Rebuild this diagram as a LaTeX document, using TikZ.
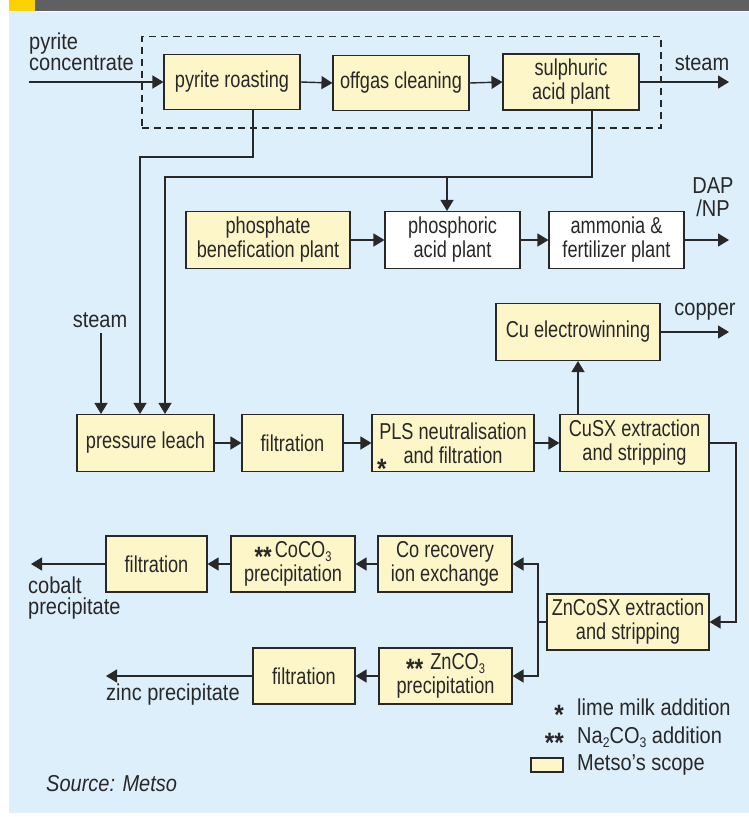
\documentclass[tikz,border=0pt]{standalone}
\usepackage{fontspec}
\setmainfont{Liberation Sans}[FakeStretch=0.79]
\newfontfamily\lblfont{Liberation Sans}[FakeStretch=0.87]
\usetikzlibrary{arrows.meta}
\usetikzlibrary{calc}
\usetikzlibrary{fit}
\definecolor{bg1}{RGB}{222,239,252}
\definecolor{bx1}{RGB}{253,246,200}
\definecolor{l1}{RGB}{40,40,40}
\definecolor{bar1}{RGB}{96,96,96}
\definecolor{bar2}{RGB}{250,210,0}
\newcommand{\stx}[1]{\raisebox{-9pt}[12pt][0pt]{\fontsize{28}{28}\selectfont\bfseries #1}}
\newcommand{\subx}[1]{\raisebox{-4pt}[0pt][0pt]{\fontsize{14}{14}\selectfont #1}}

\begin{document}
\begin{tikzpicture} [
    x=1pt, y=-1pt,
    font=\fontsize{23}{24}\selectfont,
    every node/.append style={text=l1},
    f/.style={draw=l1, line width=1.4pt, -{Triangle[length=11pt,width=13pt]}},
    ln/.style={draw=l1, line width=1.4pt},
    blk/.style={draw=l1, line width=1.1pt, fill=bx1, align=center, inner sep=0pt},
    wblk/.style={blk, fill=white},
    lbl/.style={align=center, inner sep=0pt, font=\lblfont\fontsize{23}{21}\selectfont}
]

% background
\useasboundingbox (0,0) rectangle (749,817);
\fill [bg1] (9,12) rectangle (749,813);
\fill [bar1] (35,0) rectangle (749,11);
\fill [bar2] (9,0) rectangle (35,11);

% roasting and sulphuric acid
\node [blk, minimum width=136pt, minimum height=55pt] (roast) at (232,82) {pyrite roasting};
\node [blk, minimum width=136pt, minimum height=55pt] (offgas) at (401,83) {offgas cleaning};
\node [blk, minimum width=136pt, minimum height=56pt] (sulph) at (571,82) {sulphuric\\acid plant};
\node [fit=(roast)(offgas)(sulph), inner xsep=21.5pt, inner ysep=17pt,
    draw=l1, line width=1.2pt, dash pattern=on 7pt off 5pt] (scope) {};

\coordinate (feed) at (29,82);
\coordinate (steamout) at (729,82);
\node [lbl, align=left, anchor=west] (feedlbl) at (29,52) {pyrite\\concentrate};
\node [lbl] (steamlbl) at (702,63) {steam};
\draw [f] (feed) -- (roast.west);
\draw [f] (roast.east) -- (offgas.west);
\draw [f] (offgas.east) -- (sulph.west);
\draw [f] (sulph.east) -- (steamout);

% phosphate line
\node [blk, minimum width=164pt, minimum height=57pt] (phosben) at (268,240) {phosphate\\benefication plant};
\node [wblk, minimum width=135pt, minimum height=57pt] (phosacid) at (452.5,240) {phosphoric\\acid plant};
\node [wblk, minimum width=135pt, minimum height=57pt] (ammonia) at (616.5,240) {ammonia \&\\fertilizer plant};
\coordinate (dapout) at (729,240);
\node [lbl, font=\lblfont\fontsize{23}{23}\selectfont] (daplbl) at (713,197) {DAP\\/NP};
\draw [f] (phosben.east) -- (phosacid.west);
\draw [f] (phosacid.east) -- (ammonia.west);
\draw [f] (ammonia.east) -- (dapout);

% leach line
\node [blk, minimum width=137pt, minimum height=57pt] (leach) at (145.5,443) {pressure leach};
\node [blk, minimum width=101pt, minimum height=57pt] (filt1) at (292.5,443) {filtration};
\node [blk, minimum width=162pt, minimum height=57pt] (pls) at (453,443) {PLS neutralisation\\and filtration};
\node [lbl, anchor=base west] (plsstar) at (377,469) {\stx{*}};
\node [blk, minimum width=149pt, minimum height=57pt] (cusx) at (634.5,443) {CuSX extraction\\and stripping};
\node [blk, minimum width=164pt, minimum height=57pt] (cuew) at (578,332) {Cu electrowinning};
\coordinate (cuout) at (729,332);
\node [lbl] (culbl) at (705,312) {copper};
\coordinate (steamin) at (101,333);
\node [lbl] (steamlbl2) at (100,320) {steam};

\draw [f] (leach.east) -- (filt1.west);
\draw [f] (filt1.east) -- (pls.west);
\draw [f] (pls.east) -- (cusx.west);
\draw [f] (cusx.north -| cuew) -- (cuew.south);
\draw [f] (cuew.east) -- (cuout);
\draw [f] (steamin) -- (leach.north -| steamin);

% feeds into pressure leach
\coordinate (r1) at (253,157);
\coordinate (r2) at (140,157);
\coordinate (s1) at (592,177);
\coordinate (s2) at (165,177);
\coordinate (s3) at (447,177);
\draw [f] (roast.south -| r1) -- (r1) -- (r2) -- (leach.north -| r2);
\draw [f] (sulph.south -| s1) -- (s1) -- (s2) -- (leach.north -| s2);
\draw [f] (s3) -- (phosacid.north -| s3);

% zinc and cobalt
\node [blk, minimum width=162pt, minimum height=56pt] (zncosx) at (628,622) {ZnCoSX extraction\\and stripping};
\node [blk, minimum width=134pt, minimum height=56pt] (corec) at (445,564) {Co recovery\\ion exchange};
\node [blk, minimum width=124pt, minimum height=56pt] (coco3) at (293,564) {\stx{**}\kern3pt CoCO\subx{3}\\precipitation};
\node [blk, minimum width=101pt, minimum height=56pt] (cofilt) at (156.5,564) {filtration};
\node [blk, minimum width=133pt, minimum height=56pt] (znco3) at (445.5,676) {\stx{**}\kern7pt ZnCO\subx{3}\\precipitation};
\node [blk, minimum width=102pt, minimum height=56pt] (znfilt) at (304,676) {filtration};
\coordinate (c1) at (736,530);
\coordinate (z1) at (538,622);
\coordinate (coout) at (31,564);
\coordinate (znout) at (106,676);
\node [lbl, align=left, anchor=west] (colbl) at (28,598) {cobalt\\precipitate};
\node [lbl, anchor=west] (znlbl) at (106,695) {zinc precipitate};

\draw [f] (cusx.east) -| (c1) |- (zncosx.east);
\draw [ln] (zncosx.west) -- (z1);
\draw [f] (z1) |- (corec.east);
\draw [f] (z1) |- (znco3.east);
\draw [f] (corec.west) -- (coco3.east);
\draw [f] (coco3.west) -- (cofilt.east);
\draw [f] (cofilt.west) -- (coout);
\draw [f] (znco3.west) -- (znfilt.east);
\draw [f] (znfilt.west) -- (znout);

% legend
\node [lbl, anchor=base west] (leg1) at (577,715) {lime milk addition};
\node [lbl, anchor=base east, xshift=-13pt] (leg1s) at (leg1.base west) {\stx{*}};
\node [lbl, anchor=base west] (leg2) at (577,743) {Na\subx{2}CO\subx{3} addition};
\node [lbl, anchor=base east, xshift=-13pt] (leg2s) at (leg2.base west) {\stx{**}};
\node [blk, minimum width=32pt, minimum height=14pt] (leg3b) at (547,765) {};
\node [lbl, anchor=west] (leg3) at (577,765) {Metso’s scope};
\node [lbl, anchor=west, font=\lblfont\fontsize{23}{21}\selectfont\itshape] (src) at (46,784) {Source: Metso};

\end{tikzpicture}
\end{document}
